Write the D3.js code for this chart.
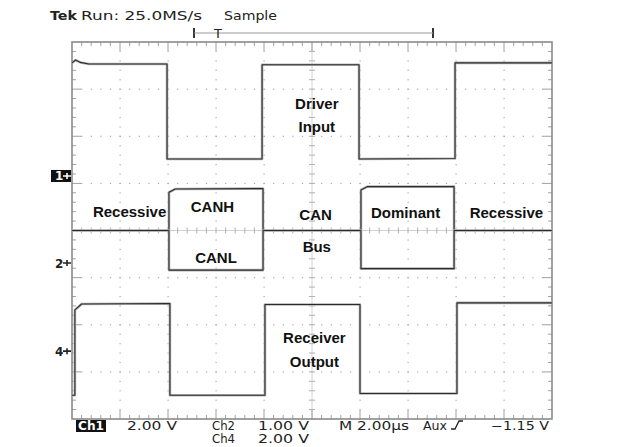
<!DOCTYPE html>
<html>
<head>
<meta charset="utf-8">
<script src="https://cdn.jsdelivr.net/npm/d3@7"></script>
<style>
  html, body { margin: 0; padding: 0; background: #fff; }
  svg { display: block; }
</style>
</head>
<body>
<svg id="chart" width="630" height="447"></svg>
<script>
// ---------------- DATA (time in µs, values in volts) ----------------
const timeDomain = [0, 20];           // 10 div x 2.00 µs
const divDomain = [-4, 4];            // 8 vertical divisions

// channel settings: volts/div and ground-marker position (divisions from centre)
const ch1Scale = 2.0,  ch1Offset = 1.157;
const ch2Scale = 1.0,  ch2Offset = -0.69;
const ch4Scale = 2.0,  ch4Offset = -2.56;

// Ch1 : Driver Input
const driverT = [0, 0.15, 0.35, 0.7, 3.96, 3.96, 7.92, 7.92, 11.96, 11.96, 15.96, 15.96, 20];
const driverV = [4.8, 4.92, 4.82, 4.75, 4.75, 0.72, 0.72, 4.72, 4.72, 0.72, 0.74, 4.8, 4.8];

// Ch2 : CAN bus (CANH and CANL)
const canHT = [0, 4.04, 4.04, 4.3, 7.96, 7.96, 12.04, 12.04, 12.3, 15.92, 15.92, 20];
const canHV = [0.69, 0.69, 1.5, 1.57, 1.58, 0.69, 0.69, 1.55, 1.62, 1.62, 0.69, 0.69];
const canLT = [0, 4.04, 4.04, 7.96, 7.96, 12.04, 12.04, 15.92, 15.92, 20];
const canLV = [0.69, 0.69, -0.15, -0.15, 0.69, 0.69, -0.12, -0.12, 0.69, 0.69];

// Ch4 : Receiver Output
const recvT = [0, 0.12, 0.12, 0.4, 4.08, 4.08, 8.04, 8.04, 12.0, 12.0, 16.04, 16.04, 20];
const recvV = [-1.87, -1.87, 1.75, 2.0, 2.02, -1.87, -1.87, 1.98, 1.98, -1.8, -1.8, 2.05, 2.05];

// annotation labels [text, time, divisions]
const labels = [
  ["Driver", 10.2, 2.58], ["Input", 10.2, 2.09],
  ["Recessive", 2.4, 0.29], ["CANH", 5.85, 0.40], ["CAN", 10.15, 0.22],
  ["Dominant", 13.9, 0.26], ["Recessive", 18.1, 0.26],
  ["CANL", 6.0, -0.69], ["Bus", 10.2, -0.45],
  ["Receiver", 10.1, -2.39], ["Output", 10.1, -2.9]
];

// bottom status texts [text, x, width]
const statusRow1 = [["2.00 V", 127, 50], ["Ch2", 212, 23], ["1.00 V", 258, 51], ["M 2.00µs", 339, 70], ["Aux", 423, 24], ["\u22121.15 V", 491, 58]];
const statusRow2 = [["Ch4", 212, 23], ["2.00 V", 258, 51]];

// ---------------- DRAWING ----------------
const svg = d3.select("#chart");
const L = 72, R = 552, T = 42, B = 419;
const x = d3.scaleLinear().domain(timeDomain).range([L, R]);
const y = d3.scaleLinear().domain(divDomain).range([B, T]);
const nx = 10, ny = 8;
const dx = (R - L) / nx, dy = (B - T) / ny;
const grid = svg.append("g");
const gridCol = "#a8a8a8";

// dotted grid lines
for (let i = 1; i < nx; i++) {
  if (i === 5) continue;
  for (let k = 1; k < ny * 5; k++) {
    grid.append("rect").attr("x", L + i * dx - 0.5).attr("y", T + k * dy / 5 - 0.5)
      .attr("width", 1.2).attr("height", 1.2).attr("fill", gridCol);
  }
}
for (let j = 1; j < ny; j++) {
  if (j === 4) continue;
  for (let k = 1; k < nx * 5; k++) {
    grid.append("rect").attr("x", L + k * dx / 5 - 0.5).attr("y", T + j * dy - 0.5)
      .attr("width", 1.2).attr("height", 1.2).attr("fill", gridCol);
  }
}
// centre crosshair
const cx = L + 5 * dx, cy = T + 4 * dy;
grid.append("line").attr("x1", L).attr("x2", R).attr("y1", cy).attr("y2", cy)
  .attr("stroke", "#cfcfcf").attr("stroke-width", 1.2);
grid.append("line").attr("x1", cx).attr("x2", cx).attr("y1", T).attr("y2", B)
  .attr("stroke", "#d4d4d4").attr("stroke-width", 1);
for (let k = 1; k < nx * 5; k++) {
  const xx = L + k * dx / 5;
  grid.append("line").attr("x1", xx).attr("x2", xx).attr("y1", cy - 3).attr("y2", cy + 3)
    .attr("stroke", "#b0b0b0").attr("stroke-width", 1);
  grid.append("line").attr("x1", xx).attr("x2", xx).attr("y1", T).attr("y2", T + (k % 5 === 0 ? 9 : 4))
    .attr("stroke", "#a0a0a0").attr("stroke-width", 1);
  grid.append("line").attr("x1", xx).attr("x2", xx).attr("y1", B).attr("y2", B - (k % 5 === 0 ? 9 : 4))
    .attr("stroke", "#a0a0a0").attr("stroke-width", 1);
}
for (let k = 1; k < ny * 5; k++) {
  const yy = T + k * dy / 5;
  grid.append("line").attr("x1", cx - 3).attr("x2", cx + 3).attr("y1", yy).attr("y2", yy)
    .attr("stroke", "#b0b0b0").attr("stroke-width", 1);
  grid.append("line").attr("x1", L).attr("x2", L + (k % 5 === 0 ? 9 : 4)).attr("y1", yy).attr("y2", yy)
    .attr("stroke", "#a0a0a0").attr("stroke-width", 1);
  grid.append("line").attr("x1", R).attr("x2", R - (k % 5 === 0 ? 9 : 4)).attr("y1", yy).attr("y2", yy)
    .attr("stroke", "#a0a0a0").attr("stroke-width", 1);
}
// border
grid.append("rect").attr("x", L).attr("y", T).attr("width", R - L).attr("height", B - T)
  .attr("fill", "none").attr("stroke", "#8a8a8a").attr("stroke-width", 1.6);

// traces
function trace(ts, vs, scale, offset) {
  const pts = ts.map((t, i) => [t, vs[i]]);
  const line = d3.line().x(d => x(d[0])).y(d => y(offset + d[1] / scale));
  const g = svg.append("g");
  g.append("path").attr("d", line(pts)).attr("fill", "none")
    .attr("stroke", "#b4b4b4").attr("stroke-width", 2.6).attr("stroke-linejoin", "round");
  g.append("path").attr("d", line(pts)).attr("fill", "none")
    .attr("stroke", "#2c2c2c").attr("stroke-width", 1.1).attr("stroke-linejoin", "round");
}
trace(driverT, driverV, ch1Scale, ch1Offset);
trace(canHT, canHV, ch2Scale, ch2Offset);
trace(canLT, canLV, ch2Scale, ch2Offset);
trace(recvT, recvV, ch4Scale, ch4Offset);

// labels
svg.append("g").selectAll("text").data(labels).join("text")
  .attr("x", d => x(d[1])).attr("y", d => y(d[2]))
  .attr("text-anchor", "middle")
  .attr("font-family", "Liberation Sans, Arial, sans-serif")
  .attr("font-weight", "bold").attr("font-size", 15).attr("fill", "#111")
  .text(d => d[0]);

// channel markers
const mk = svg.append("g").attr("font-family", "DejaVu Sans, sans-serif").attr("font-size", 12);
function marker(label, posDiv, inverse) {
  const yy = y(posDiv);
  if (inverse) {
    mk.append("rect").attr("x", 51).attr("y", yy - 6).attr("width", 20).attr("height", 12).attr("fill", "#111");
  }
  mk.append("text").attr("x", 55).attr("y", yy + 4.5).attr("fill", inverse ? "#fff" : "#222")
    .attr("font-weight", "bold").text(label);
  mk.append("path").attr("d", `M${63},${yy} H${71} M${67},${yy - 3} V${yy + 3}`)
    .attr("stroke", inverse ? "#fff" : "#222").attr("stroke-width", 1.6);
}
marker("1", ch1Offset, true);
marker("2", ch2Offset, false);
marker("4", ch4Offset, false);

// top header
const hdr = svg.append("g").attr("font-family", "DejaVu Sans, sans-serif").attr("font-size", 13).attr("fill", "#222");
hdr.append("text").attr("x", 50).attr("y", 20).attr("font-weight", "bold")
  .attr("textLength", 27).attr("lengthAdjust", "spacingAndGlyphs").text("Tek");
hdr.append("text").attr("x", 81).attr("y", 20)
  .attr("textLength", 121).attr("lengthAdjust", "spacingAndGlyphs").text("Run: 25.0MS/s");
hdr.append("text").attr("x", 224).attr("y", 20)
  .attr("textLength", 53).attr("lengthAdjust", "spacingAndGlyphs").text("Sample");
hdr.append("path").attr("d", "M194,28 V38 M433,28 V38").attr("stroke", "#222").attr("stroke-width", 1.8);
hdr.append("line").attr("x1", 194).attr("x2", 433).attr("y1", 33).attr("y2", 33).attr("stroke", "#999").attr("stroke-width", 1.2);
hdr.append("text").attr("x", 218).attr("y", 38).attr("text-anchor", "middle").text("T");

// bottom status
const st = svg.append("g").attr("font-family", "DejaVu Sans, sans-serif").attr("font-size", 11.5).attr("fill", "#222");
st.append("rect").attr("x", 76).attr("y", 420).attr("width", 30).attr("height", 12).attr("fill", "#111");
st.append("text").attr("x", 78).attr("y", 430).attr("fill", "#fff").attr("font-weight", "bold")
  .attr("textLength", 26).attr("lengthAdjust", "spacingAndGlyphs").text("Ch1");
st.selectAll("text.r1").data(statusRow1).join("text").attr("class", "r1")
  .attr("x", d => d[1]).attr("y", 430)
  .attr("textLength", d => d[2]).attr("lengthAdjust", "spacingAndGlyphs").text(d => d[0]);
st.selectAll("text.r2").data(statusRow2).join("text").attr("class", "r2")
  .attr("x", d => d[1]).attr("y", 443)
  .attr("textLength", d => d[2]).attr("lengthAdjust", "spacingAndGlyphs").text(d => d[0]);
st.append("path").attr("d", "M451,429 H455 L459,421 H463").attr("fill", "none").attr("stroke", "#222").attr("stroke-width", 1.3);
</script>
</body>
</html>
